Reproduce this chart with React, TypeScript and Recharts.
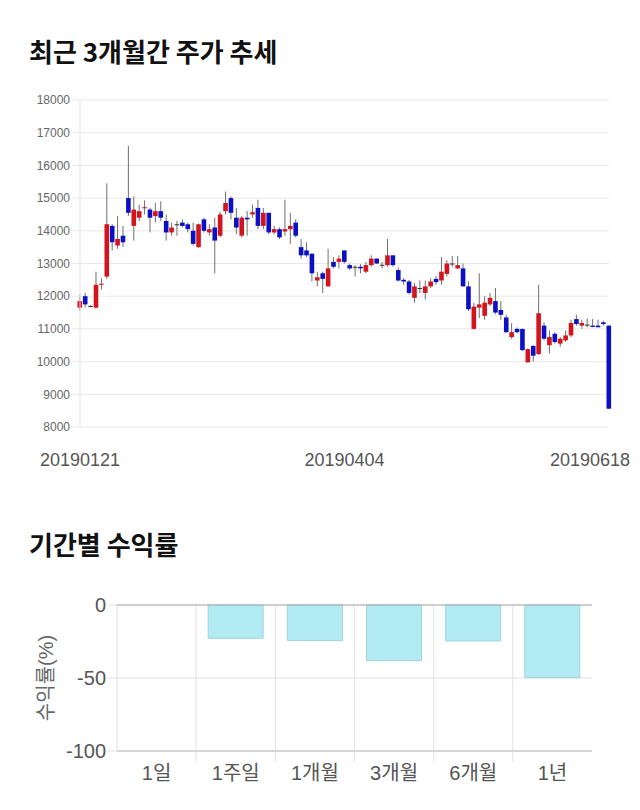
import React from 'react';
import { ComposedChart, BarChart, Bar, XAxis, YAxis, CartesianGrid, ReferenceLine } from 'recharts';

// 일봉 데이터 (차트에서 눈으로 읽은 값)
const dates = [
  '20190121', '20190122', '20190123', '20190124', '20190125', '20190128', '20190129', '20190130', '20190131',
  '20190201', '20190207', '20190208', '20190211', '20190212', '20190213', '20190214', '20190215', '20190218',
  '20190219', '20190220', '20190221', '20190222', '20190225', '20190226', '20190227', '20190228',
  '20190304', '20190305', '20190306', '20190307', '20190308', '20190311', '20190312', '20190313', '20190314',
  '20190315', '20190318', '20190319', '20190320', '20190321', '20190322', '20190325', '20190326', '20190327',
  '20190328', '20190329',
  '20190401', '20190402', '20190403', '20190404', '20190405', '20190408', '20190409', '20190410', '20190411',
  '20190412', '20190415', '20190416', '20190417', '20190418', '20190419', '20190422', '20190423', '20190424',
  '20190425', '20190426', '20190429', '20190430',
  '20190503', '20190507', '20190508', '20190509', '20190510', '20190513', '20190514', '20190515', '20190516',
  '20190517', '20190520', '20190521', '20190522', '20190523', '20190524', '20190527', '20190528', '20190529',
  '20190530', '20190531',
  '20190603', '20190604', '20190605', '20190607', '20190610', '20190611', '20190612', '20190613', '20190614',
  '20190617', '20190618',
];

const opens = [
  11650, 12000, 11700, 11650, 12350, 12600, 14150, 13550, 13850, 15000,
  14150, 14400, 14700, 14650, 14450, 14600, 14300, 13950, 14200, 14250,
  14200, 14000, 13500, 14350, 13950, 14100, 13850, 14600, 15000, 14400,
  13850, 14400, 14500, 14700, 14150, 14550, 13950, 14050, 13980, 14050,
  14250, 13500, 13400, 13300, 12480, 12700, 12300, 13050, 13050, 13400,
  12950, 12900, 12900, 12750, 12950, 13150, 12960, 12950, 13250, 12800,
  12500, 12450, 11950, 12250, 12100, 12300, 12530, 12480, 12680, 13000,
  12850, 12850, 12300, 11000, 11650, 11400, 11750, 11850, 11580, 11350,
  10750, 11000, 11000, 9980, 10480, 10230, 11100, 10500, 10850, 10550,
  10650, 10800, 11300, 11100, 11130, 11100, 11100, 11200, 11100,
];

const highs = [
  12050, 12100, 11730, 12750, 12550, 15450, 14200, 14450, 14150, 16600,
  15050, 14800, 14930, 14700, 14850, 14900, 14500, 14250, 14300, 14350,
  14250, 14250, 14220, 14400, 14200, 14400, 14580, 15200, 15050, 14700,
  14450, 14600, 14800, 14950, 14700, 14550, 14150, 14100, 14950, 14550,
  14350, 13750, 13650, 13300, 12750, 12750, 13450, 13200, 13250, 13400,
  13000, 12950, 12980, 13050, 13250, 13150, 13050, 13750, 13250, 12880,
  12550, 12500, 12400, 12480, 12480, 12550, 12620, 13200, 13100, 13230,
  13230, 13000, 12450, 11800, 12700, 12000, 12100, 12250, 11850, 11430,
  11180, 11050, 11000, 10400, 10500, 12350, 11200, 10950, 10900, 10750,
  10950, 11280, 11430, 11280, 11320, 11300, 11280, 11250, 11100,
];

const lows = [
  11550, 11650, 11680, 11620, 12200, 12530, 13400, 13450, 13500, 14450,
  13700, 14300, 14500, 13950, 14250, 14300, 13700, 13850, 13850, 14100,
  13950, 13550, 13480, 13950, 13850, 12700, 13800, 14500, 14350, 13900,
  13800, 13850, 14400, 14050, 14050, 13900, 13900, 13750, 13850, 13600,
  13800, 13150, 13200, 12450, 12300, 12100, 12300, 12850, 12850, 13000,
  12800, 12600, 12700, 12700, 12900, 12980, 12850, 12900, 12900, 12450,
  12350, 12050, 11800, 12100, 11900, 12250, 12350, 12350, 12600, 12900,
  12830, 12300, 11550, 10980, 11330, 11280, 11700, 11450, 11280, 10880,
  10700, 10870, 10330, 9960, 10000, 10200, 10650, 10250, 10550, 10450,
  10600, 10750, 11100, 11000, 11050, 11050, 11050, 11100, 8550,
];

const closes = [
  11850, 11750, 11700, 12350, 12380, 14200, 13650, 13750, 13650, 14550,
  14650, 14600, 14720, 14400, 14600, 14400, 13950, 14100, 14200, 14150,
  14050, 13600, 14200, 14000, 14050, 13700, 14500, 14850, 14550, 14100,
  14400, 14350, 14570, 14150, 14550, 13950, 14050, 13800, 14050, 14150,
  13850, 13250, 13250, 12700, 12580, 12530, 12850, 12900, 13150, 13050,
  12850, 12900, 12850, 12950, 13150, 13000, 12960, 13250, 12950, 12480,
  12450, 12100, 12300, 12250, 12300, 12450, 12430, 12750, 13000, 13000,
  12950, 12300, 11600, 11680, 11750, 11800, 11950, 11500, 11430, 10900,
  10900, 10900, 10350, 10380, 10180, 11480, 10700, 10750, 10600, 10700,
  10800, 11180, 11150, 11180, 11130, 11060, 11050, 11150, 8560,
];

const priceTicks = [8000, 9000, 10000, 11000, 12000, 13000, 14000, 15000, 16000, 17000, 18000];
const dateTickLabels = ['20190121', '20190404', '20190618'];

// 기간별 수익률
const periods = ['1일', '1주일', '1개월', '3개월', '6개월', '1년'];
const returnValues = [0, -22.8, -24.4, -38.1, -24.6, -49.7];
const returnTicks = [0, -50, -100];

const UP = '#d3141c';
const DOWN = '#0b10c4';
const FONT = "'Liberation Sans', 'Noto Sans CJK KR', sans-serif";

const candles = dates.map((d, i) => ({
  i,
  date: d,
  open: opens[i],
  high: highs[i],
  low: lows[i],
  close: closes[i],
  range: [lows[i], highs[i]],
}));

const returns = periods.map((p, i) => ({ name: p, value: returnValues[i] }));

const Candle = (props: any) => {
  const { x, y, width, height, payload } = props;
  if (!payload) return null;
  const { open, close, high, low } = payload;
  const cx = x + width / 2;
  const top = Math.min(y, y + height);
  const bottom = Math.max(y, y + height);
  const k = high - low > 0 ? (bottom - top) / (high - low) : 0;
  const yOf = (v: number) => top + (high - v) * k;
  const color = close > open ? UP : close < open ? DOWN : '#333';
  const bTop = yOf(Math.max(open, close));
  const bBot = yOf(Math.min(open, close));
  const bw = 4.6;
  return (
    <g>
      <line x1={cx} x2={cx} y1={top} y2={bottom} stroke="#6f6f6f" strokeWidth={1} />
      <rect x={cx - bw / 2} y={bTop} width={bw} height={Math.max(1, bBot - bTop)} fill={color} />
    </g>
  );
};

const DateTick = (props: any) => {
  const { x, y, payload } = props;
  const idx = dateTickLabels.indexOf(dates[payload.value]);
  const last = idx === dateTickLabels.length - 1;
  return (
    <text
      x={last ? 630 : x}
      y={y + 31}
      textAnchor={last ? 'end' : 'middle'}
      fontSize={18}
      fill="#555"
      fontFamily={FONT}
    >
      {dates[payload.value]}
    </text>
  );
};

const BAR_W = 640;
const BAR_YW = 117;
const BAR_RIGHT = 48;
const BAND = (BAR_W - BAR_YW - BAR_RIGHT) / periods.length;

const PeriodTick = (props: any) => {
  const { x, y, payload, index } = props;
  return (
    <g>
      {index > 0 && (
        <line x1={x - BAND / 2} x2={x - BAND / 2} y1={y} y2={y + 11} stroke="#e2e2e2" />
      )}
      <text x={x} y={y + 29} textAnchor="middle" fontSize={20} fill="#555" fontFamily={FONT}>
        {payload.value}
      </text>
    </g>
  );
};

const titleStyle: React.CSSProperties = {
  position: 'absolute',
  left: 29,
  fontFamily: "'Noto Sans CJK KR', sans-serif",
  fontWeight: 700,
  fontSize: 26,
  lineHeight: '26px',
  color: '#111',
  whiteSpace: 'nowrap',
};

const App: React.FC = () => {
  const dateTicks = dateTickLabels.map((d) => dates.indexOf(d));

  return (
    <div style={{ position: 'absolute', left: 0, top: 0, width: 640, height: 810, background: '#fff', fontFamily: FONT }}>
      <div style={{ ...titleStyle, top: 38 }}>최근 3개월간 주가 추세</div>

      <div style={{ position: 'absolute', left: 0, top: 0 }}>
        <ComposedChart width={640} height={470} data={candles} margin={{ top: 100, right: 31, bottom: 13, left: 0 }}>
          <CartesianGrid vertical={false} stroke="#e8e8e8" />
          <XAxis
            type="number"
            dataKey="i"
            domain={[0, dates.length - 1]}
            ticks={dateTicks}
            interval={0}
            axisLine={false}
            tickLine={false}
            tick={<DateTick />}
            height={30}
          />
          <YAxis
            domain={[8000, 18000]}
            ticks={priceTicks}
            interval={0}
            width={80}
            axisLine={{ stroke: '#e3e3e3' }}
            tickLine={{ stroke: '#e8e8e8' }}
            tickSize={8}
            tick={{ fontSize: 12, fill: '#666', fontFamily: FONT }}
          />
          <Bar dataKey="range" shape={<Candle />} barSize={5} isAnimationActive={false} />
        </ComposedChart>
      </div>

      <div style={{ ...titleStyle, top: 531 }}>기간별 수익률</div>

      <div style={{ position: 'absolute', left: 0, top: 480 }}>
        <BarChart width={BAR_W} height={330} data={returns} margin={{ top: 125, right: BAR_RIGHT, bottom: 19, left: 0 }}>
          <CartesianGrid
            stroke="#e2e2e2"
            verticalCoordinatesGenerator={({ offset }: any) =>
              periods.slice(1).map((_, k) => offset.left + ((k + 1) * offset.width) / periods.length)
            }
          />
          <XAxis
            dataKey="name"
            axisLine={{ stroke: '#bbb' }}
            tickLine={false}
            tickSize={0}
            tickMargin={0}
            interval={0}
            tick={<PeriodTick />}
            height={40}
          />
          <YAxis
            domain={[-100, 0]}
            ticks={returnTicks}
            interval={0}
            width={BAR_YW}
            axisLine={{ stroke: '#dcdcdc' }}
            tickLine={{ stroke: '#e2e2e2' }}
            tickSize={10}
            tickMargin={1}
            tick={{ fontSize: 20, fill: '#555', fontFamily: FONT }}
            label={{
              content: ({ viewBox }: any) => {
                const cy = viewBox ? viewBox.y + viewBox.height / 2 : 678;
                return (
                  <text
                    x={46}
                    y={cy}
                    transform={`rotate(-90, 46, ${cy})`}
                    textAnchor="middle"
                    dominantBaseline="central"
                    fontSize={20}
                    fill="#666"
                    fontFamily={FONT}
                  >
                    수익률(%)
                  </text>
                );
              },
            }}
          />
          <ReferenceLine y={0} stroke="#aaa" />
          <Bar dataKey="value" fill="#b2ebf2" stroke="#9fd4dd" barSize={55} isAnimationActive={false} />
        </BarChart>
      </div>
    </div>
  );
};

export default App;
